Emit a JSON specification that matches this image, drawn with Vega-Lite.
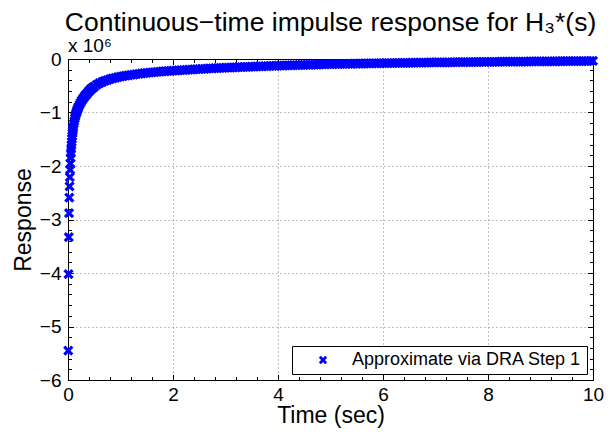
{
  "$schema": "https://vega.github.io/schema/vega-lite/v6.json",
  "width": 525,
  "height": 321,
  "autosize": "none",
  "padding": {"left": 68, "top": 59, "right": 20, "bottom": 54},
  "background": "white",
  "config": {
    "font": "Liberation Sans",
    "view": {"stroke": null},
    "axis": {"domainColor": "#000", "tickColor": "#000", "labelColor": "#000", "titleColor": "#000", "labelFont": "Liberation Sans", "titleFont": "Liberation Sans", "titleFontWeight": "normal", "gridColor": "#666", "gridDash": [1, 3], "gridWidth": 1, "gridOpacity": 0.8, "domainWidth": 1, "tickWidth": 1},
    "title": {"font": "Liberation Sans", "fontWeight": "normal", "color": "#000"}
  },
  "title": {"text": "Continuous−time impulse response for H₃*(s)", "fontSize": 26.5, "anchor": "middle", "offset": 1},
  "data": {"values": [
    {"t":0.005,"y":-5.45},{"t":0.01,"y":-4.02},{"t":0.015,"y":-3.33},{"t":0.02,"y":-2.88},{"t":0.025,"y":-2.59},
    {"t":0.03,"y":-2.38},{"t":0.035,"y":-2.21},{"t":0.04,"y":-2.07},{"t":0.045,"y":-1.95},{"t":0.05,"y":-1.85},
    {"t":0.055,"y":-1.76},{"t":0.06,"y":-1.68},{"t":0.065,"y":-1.61},{"t":0.07,"y":-1.55},{"t":0.075,"y":-1.49},
    {"t":0.08,"y":-1.44},{"t":0.085,"y":-1.39},{"t":0.09,"y":-1.35},{"t":0.095,"y":-1.31},{"t":0.1,"y":-1.27},
    {"t":0.11,"y":-1.21},{"t":0.12,"y":-1.16},{"t":0.13,"y":-1.11},{"t":0.14,"y":-1.07},{"t":0.15,"y":-1.03},
    {"t":0.16,"y":-1.0},{"t":0.17,"y":-0.97},{"t":0.18,"y":-0.945},{"t":0.19,"y":-0.92},{"t":0.2,"y":-0.895},
    {"t":0.22,"y":-0.855},{"t":0.24,"y":-0.815},{"t":0.26,"y":-0.78},{"t":0.28,"y":-0.75},{"t":0.3,"y":-0.72},
    {"t":0.32,"y":-0.695},{"t":0.34,"y":-0.67},{"t":0.36,"y":-0.65},{"t":0.38,"y":-0.625},{"t":0.4,"y":-0.6},
    {"t":0.42,"y":-0.58},{"t":0.44,"y":-0.56},{"t":0.46,"y":-0.545},{"t":0.48,"y":-0.53},{"t":0.5,"y":-0.515},
    {"t":0.55,"y":-0.48},{"t":0.6,"y":-0.452},{"t":0.65,"y":-0.43},{"t":0.7,"y":-0.41},{"t":0.75,"y":-0.393},
    {"t":0.8,"y":-0.378},{"t":0.85,"y":-0.364},{"t":0.9,"y":-0.352},{"t":0.95,"y":-0.341},{"t":1.0,"y":-0.33},
    {"t":1.05,"y":-0.321},{"t":1.1,"y":-0.312},{"t":1.15,"y":-0.304},{"t":1.2,"y":-0.297},{"t":1.25,"y":-0.29},
    {"t":1.3,"y":-0.283},{"t":1.35,"y":-0.277},{"t":1.4,"y":-0.271},{"t":1.45,"y":-0.265},{"t":1.5,"y":-0.26},
    {"t":1.55,"y":-0.255},{"t":1.6,"y":-0.25},{"t":1.65,"y":-0.245},{"t":1.7,"y":-0.241},{"t":1.75,"y":-0.237},
    {"t":1.8,"y":-0.233},{"t":1.85,"y":-0.229},{"t":1.9,"y":-0.225},{"t":1.95,"y":-0.222},{"t":2.0,"y":-0.219},
    {"t":2.05,"y":-0.216},{"t":2.1,"y":-0.213},{"t":2.15,"y":-0.209},{"t":2.2,"y":-0.206},{"t":2.25,"y":-0.203},
    {"t":2.3,"y":-0.2},{"t":2.35,"y":-0.197},{"t":2.4,"y":-0.194},{"t":2.45,"y":-0.191},{"t":2.5,"y":-0.188},
    {"t":2.55,"y":-0.185},{"t":2.6,"y":-0.183},{"t":2.65,"y":-0.18},{"t":2.7,"y":-0.177},{"t":2.75,"y":-0.175},
    {"t":2.8,"y":-0.172},{"t":2.85,"y":-0.17},{"t":2.9,"y":-0.168},{"t":2.95,"y":-0.166},{"t":3.0,"y":-0.163},
    {"t":3.05,"y":-0.161},{"t":3.1,"y":-0.159},{"t":3.15,"y":-0.157},{"t":3.2,"y":-0.155},{"t":3.25,"y":-0.153},
    {"t":3.3,"y":-0.151},{"t":3.35,"y":-0.149},{"t":3.4,"y":-0.147},{"t":3.45,"y":-0.145},{"t":3.5,"y":-0.143},
    {"t":3.55,"y":-0.141},{"t":3.6,"y":-0.139},{"t":3.65,"y":-0.137},{"t":3.7,"y":-0.136},{"t":3.75,"y":-0.134},
    {"t":3.8,"y":-0.132},{"t":3.85,"y":-0.13},{"t":3.9,"y":-0.129},{"t":3.95,"y":-0.127},{"t":4.0,"y":-0.125},
    {"t":4.05,"y":-0.124},{"t":4.1,"y":-0.122},{"t":4.15,"y":-0.121},{"t":4.2,"y":-0.119},{"t":4.25,"y":-0.118},
    {"t":4.3,"y":-0.116},{"t":4.35,"y":-0.115},{"t":4.4,"y":-0.113},{"t":4.45,"y":-0.112},{"t":4.5,"y":-0.11},
    {"t":4.55,"y":-0.109},{"t":4.6,"y":-0.108},{"t":4.65,"y":-0.106},{"t":4.7,"y":-0.105},{"t":4.75,"y":-0.104},
    {"t":4.8,"y":-0.102},{"t":4.85,"y":-0.101},{"t":4.9,"y":-0.1},{"t":4.95,"y":-0.098},{"t":5.0,"y":-0.097},
    {"t":5.05,"y":-0.096},{"t":5.1,"y":-0.095},{"t":5.15,"y":-0.094},{"t":5.2,"y":-0.093},{"t":5.25,"y":-0.092},
    {"t":5.3,"y":-0.091},{"t":5.35,"y":-0.09},{"t":5.4,"y":-0.089},{"t":5.45,"y":-0.088},{"t":5.5,"y":-0.087},
    {"t":5.55,"y":-0.086},{"t":5.6,"y":-0.085},{"t":5.65,"y":-0.084},{"t":5.7,"y":-0.083},{"t":5.75,"y":-0.082},
    {"t":5.8,"y":-0.081},{"t":5.85,"y":-0.08},{"t":5.9,"y":-0.08},{"t":5.95,"y":-0.079},{"t":6.0,"y":-0.078},
    {"t":6.05,"y":-0.077},{"t":6.1,"y":-0.076},{"t":6.15,"y":-0.076},{"t":6.2,"y":-0.075},{"t":6.25,"y":-0.074},
    {"t":6.3,"y":-0.073},{"t":6.35,"y":-0.073},{"t":6.4,"y":-0.072},{"t":6.45,"y":-0.071},{"t":6.5,"y":-0.071},
    {"t":6.55,"y":-0.07},{"t":6.6,"y":-0.069},{"t":6.65,"y":-0.069},{"t":6.7,"y":-0.068},{"t":6.75,"y":-0.067},
    {"t":6.8,"y":-0.067},{"t":6.85,"y":-0.066},{"t":6.9,"y":-0.065},{"t":6.95,"y":-0.065},{"t":7.0,"y":-0.064},
    {"t":7.05,"y":-0.063},{"t":7.1,"y":-0.063},{"t":7.15,"y":-0.062},{"t":7.2,"y":-0.062},{"t":7.25,"y":-0.061},
    {"t":7.3,"y":-0.061},{"t":7.35,"y":-0.06},{"t":7.4,"y":-0.06},{"t":7.45,"y":-0.059},{"t":7.5,"y":-0.059},
    {"t":7.55,"y":-0.058},{"t":7.6,"y":-0.058},{"t":7.65,"y":-0.057},{"t":7.7,"y":-0.057},{"t":7.75,"y":-0.056},
    {"t":7.8,"y":-0.056},{"t":7.85,"y":-0.055},{"t":7.9,"y":-0.055},{"t":7.95,"y":-0.054},{"t":8.0,"y":-0.054},
    {"t":8.05,"y":-0.053},{"t":8.1,"y":-0.053},{"t":8.15,"y":-0.052},{"t":8.2,"y":-0.052},{"t":8.25,"y":-0.051},
    {"t":8.3,"y":-0.051},{"t":8.35,"y":-0.05},{"t":8.4,"y":-0.05},{"t":8.45,"y":-0.05},{"t":8.5,"y":-0.049},
    {"t":8.55,"y":-0.049},{"t":8.6,"y":-0.048},{"t":8.65,"y":-0.048},{"t":8.7,"y":-0.047},{"t":8.75,"y":-0.047},
    {"t":8.8,"y":-0.046},{"t":8.85,"y":-0.046},{"t":8.9,"y":-0.046},{"t":8.95,"y":-0.045},{"t":9.0,"y":-0.045},
    {"t":9.05,"y":-0.045},{"t":9.1,"y":-0.044},{"t":9.15,"y":-0.044},{"t":9.2,"y":-0.043},{"t":9.25,"y":-0.043},
    {"t":9.3,"y":-0.042},{"t":9.35,"y":-0.042},{"t":9.4,"y":-0.042},{"t":9.45,"y":-0.041},{"t":9.5,"y":-0.041},
    {"t":9.55,"y":-0.04},{"t":9.6,"y":-0.04},{"t":9.65,"y":-0.04},{"t":9.7,"y":-0.039},{"t":9.75,"y":-0.039},
    {"t":9.8,"y":-0.038},{"t":9.85,"y":-0.038},{"t":9.9,"y":-0.038},{"t":9.95,"y":-0.037},{"t":10.0,"y":-0.037}
  ]},
  "resolve": {"axis": {"x": "independent", "y": "independent"}},
  "layer": [
    {
      "mark": {"type": "point", "shape": "M-1,-1L1,1M-1,1L1,-1", "size": 64, "strokeWidth": 3.2, "filled": false, "opacity": 1},
      "encoding": {
        "x": {"field": "t", "type": "quantitative", "scale": {"domain": [0, 10], "nice": false, "zero": false},
          "axis": {"orient": "bottom", "values": [0, 2, 4, 6, 8, 10], "grid": true, "ticks": false, "domain": true, "labelFontSize": 19, "labelPadding": 5, "labelFlush": false, "title": "Time (sec)", "titleFontSize": 23, "titlePadding": 0}},
        "y": {"field": "y", "type": "quantitative", "scale": {"domain": [-6, 0], "nice": false, "zero": false},
          "axis": {"orient": "left", "values": [-6, -5, -4, -3, -2, -1, 0], "grid": true, "ticks": false, "domain": true, "labelFontSize": 19, "labelPadding": 7, "labelFlush": false, "title": "Response", "titleFontSize": 23, "titlePadding": 4}},
        "color": {"datum": "Approximate via DRA Step 1", "type": "nominal", "scale": {"range": ["#0000ff"]},
          "legend": {"title": null, "orient": "bottom-right", "offset": 6, "strokeColor": "#000", "fillColor": "#fff", "padding": 5, "cornerRadius": 0, "labelFontSize": 18, "labelColor": "#000", "labelFont": "Liberation Sans", "labelLimit": 0, "symbolType": "M-1,-1L1,1M-1,1L1,-1", "symbolSize": 40, "symbolStrokeWidth": 2.8, "symbolOffset": 17, "labelOffset": 20}}
      }
    },
    {
      "mark": {"type": "point", "opacity": 0},
      "encoding": {
        "x": {"field": "t", "type": "quantitative", "axis": {"orient": "bottom", "values": [0, 2, 4, 6, 8, 10], "grid": false, "labels": false, "domain": false, "tickSize": -5.5, "title": null}},
        "y": {"field": "y", "type": "quantitative", "axis": {"orient": "left", "values": [-6, -5, -4, -3, -2, -1, 0], "grid": false, "labels": false, "domain": false, "tickSize": -5.5, "title": null}}
      }
    },
    {
      "mark": {"type": "point", "opacity": 0},
      "encoding": {
        "x": {"field": "t", "type": "quantitative", "axis": {"orient": "bottom", "values": [0.4, 0.8, 1.2, 1.6, 2.4, 2.8, 3.2, 3.6, 4.4, 4.8, 5.2, 5.6, 6.4, 6.8, 7.2, 7.6, 8.4, 8.8, 9.2, 9.6], "grid": false, "labels": false, "domain": false, "tickSize": -3.5, "title": null}},
        "y": {"field": "y", "type": "quantitative", "axis": {"orient": "left", "values": [-5.8, -5.6, -5.4, -5.2, -4.8, -4.6, -4.4, -4.2, -3.8, -3.6, -3.4, -3.2, -2.8, -2.6, -2.4, -2.2, -1.8, -1.6, -1.4, -1.2, -0.8, -0.6, -0.4, -0.2], "grid": false, "labels": false, "domain": false, "tickSize": -3.5, "title": null}}
      }
    },
    {
      "mark": {"type": "point", "opacity": 0},
      "encoding": {
        "x": {"field": "t", "type": "quantitative", "axis": {"orient": "top", "values": [0, 2, 4, 6, 8, 10], "grid": false, "labels": false, "domain": true, "tickSize": -5.5, "title": null}},
        "y": {"field": "y", "type": "quantitative", "axis": {"orient": "right", "values": [-6, -5, -4, -3, -2, -1, 0], "grid": false, "labels": false, "domain": true, "tickSize": -5.5, "title": null}}
      }
    },
    {
      "mark": {"type": "point", "opacity": 0},
      "encoding": {
        "x": {"field": "t", "type": "quantitative", "axis": {"orient": "top", "values": [0.4, 0.8, 1.2, 1.6, 2.4, 2.8, 3.2, 3.6, 4.4, 4.8, 5.2, 5.6, 6.4, 6.8, 7.2, 7.6, 8.4, 8.8, 9.2, 9.6], "grid": false, "labels": false, "domain": false, "tickSize": -3.5, "title": null}},
        "y": {"field": "y", "type": "quantitative", "axis": {"orient": "right", "values": [-5.8, -5.6, -5.4, -5.2, -4.8, -4.6, -4.4, -4.2, -3.8, -3.6, -3.4, -3.2, -2.8, -2.6, -2.4, -2.2, -1.8, -1.6, -1.4, -1.2, -0.8, -0.6, -0.4, -0.2], "grid": false, "labels": false, "domain": false, "tickSize": -3.5, "title": null}}
      }
    },
    {
      "data": {"values": [{"label": "x 10⁶"}]},
      "mark": {"type": "text", "align": "left", "baseline": "bottom", "dy": -3, "fontSize": 19, "color": "#000", "font": "Liberation Sans"},
      "encoding": {
        "x": {"datum": 0, "type": "quantitative", "axis": null},
        "y": {"datum": 0, "type": "quantitative", "axis": null},
        "text": {"field": "label", "type": "nominal"}
      }
    }
  ]
}
